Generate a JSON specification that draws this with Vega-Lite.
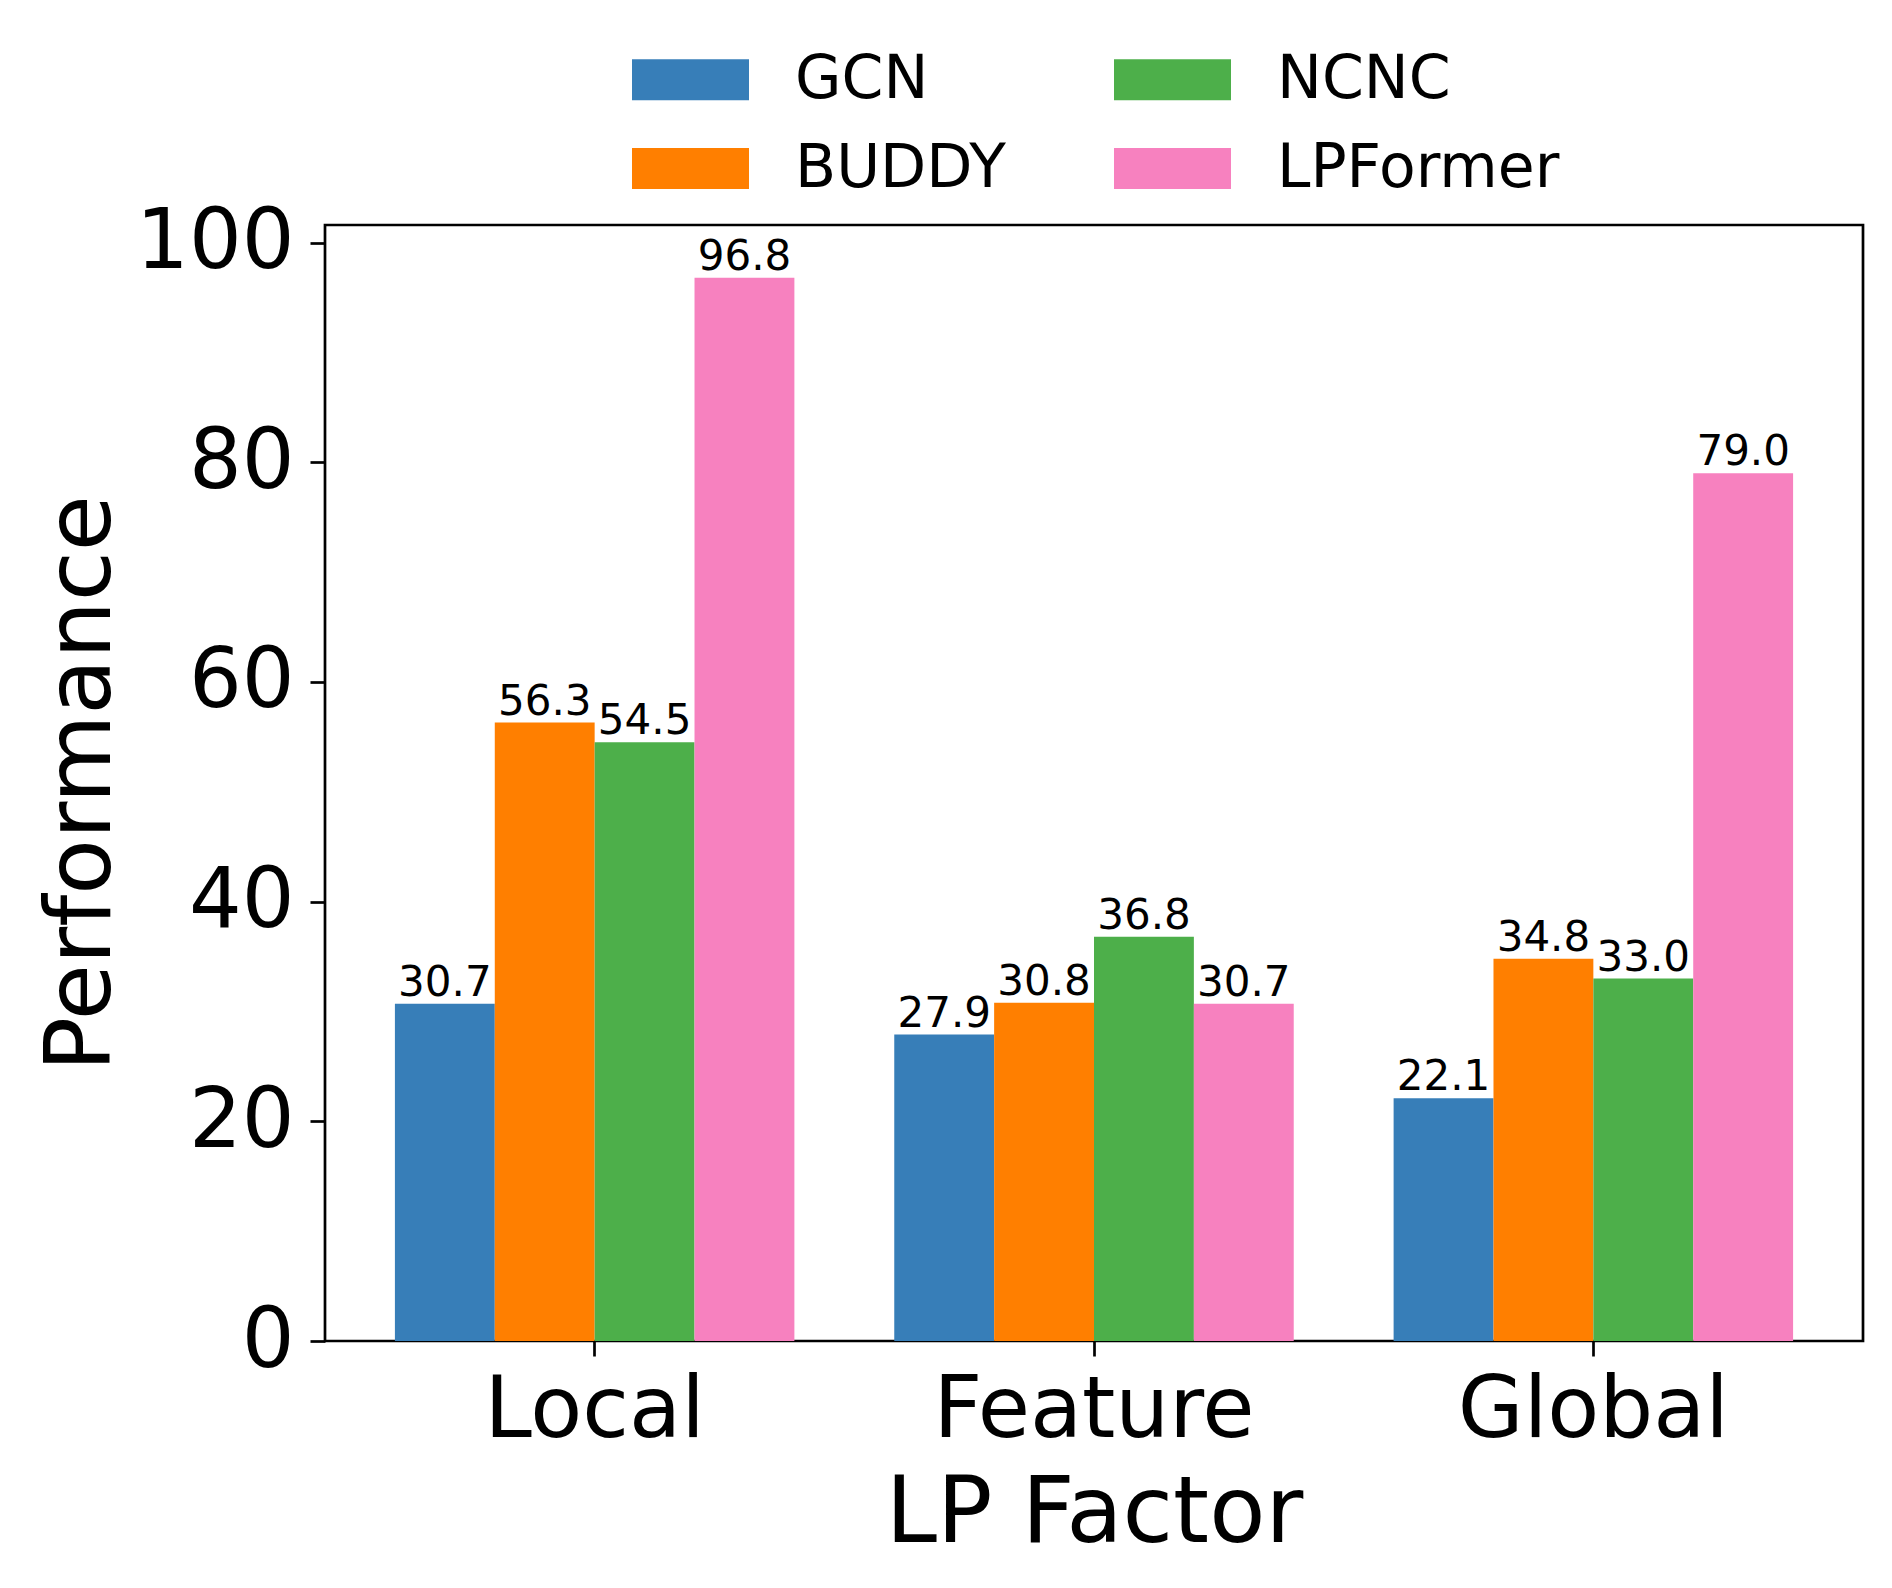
{
  "$schema": "https://vega.github.io/schema/vega-lite/v6.json",
  "width": 1538,
  "height": 1116,
  "autosize": {"type": "none"},
  "padding": {"left": 325, "top": 225, "right": 29, "bottom": 247},
  "background": "white",
  "config": {
    "font": "DejaVu Sans",
    "view": {"stroke": "black", "strokeWidth": 2.7}
  },
  "data": {
    "values": [
      {"factor": "Local", "model": "GCN", "value": 30.7},
      {"factor": "Local", "model": "BUDDY", "value": 56.3},
      {"factor": "Local", "model": "NCNC", "value": 54.5},
      {"factor": "Local", "model": "LPFormer", "value": 96.8},
      {"factor": "Feature", "model": "GCN", "value": 27.9},
      {"factor": "Feature", "model": "BUDDY", "value": 30.8},
      {"factor": "Feature", "model": "NCNC", "value": 36.8},
      {"factor": "Feature", "model": "LPFormer", "value": 30.7},
      {"factor": "Global", "model": "GCN", "value": 22.1},
      {"factor": "Global", "model": "BUDDY", "value": 34.8},
      {"factor": "Global", "model": "NCNC", "value": 33.0},
      {"factor": "Global", "model": "LPFormer", "value": 79.0}
    ]
  },
  "encoding": {
    "x": {
      "field": "factor",
      "type": "nominal",
      "sort": ["Local", "Feature", "Global"],
      "title": "LP Factor",
      "scale": {"paddingInner": 0.2, "paddingOuter": 0.14},
      "axis": {
        "domain": false,
        "grid": false,
        "labelAngle": 0,
        "tickSize": 15,
        "tickWidth": 2.7,
        "tickColor": "black",
        "labelFontSize": 85,
        "labelColor": "black",
        "labelLimit": 1000,
        "labelPadding": 80,
        "labelBaseline": "alphabetic",
        "titleFontSize": 92,
        "titleFontWeight": "normal",
        "titleColor": "black",
        "titleBaseline": "alphabetic",
        "titleY": 200
      }
    },
    "xOffset": {
      "field": "model",
      "type": "nominal",
      "sort": ["GCN", "BUDDY", "NCNC", "LPFormer"],
      "scale": {"paddingInner": 0, "paddingOuter": 0}
    },
    "y": {
      "field": "value",
      "type": "quantitative",
      "title": "Performance",
      "scale": {"domain": [0, 101.6], "nice": false, "zero": true},
      "axis": {
        "domain": false,
        "grid": false,
        "values": [0, 20, 40, 60, 80, 100],
        "tickSize": 15,
        "tickWidth": 2.7,
        "tickColor": "black",
        "labelFontSize": 83,
        "labelColor": "black",
        "labelLimit": 1000,
        "labelPadding": 16,
        "titleFontSize": 91,
        "titleFontWeight": "normal",
        "titleColor": "black",
        "titleBaseline": "alphabetic",
        "titleAlign": "center",
        "titleAngle": -90,
        "titleX": -216,
        "titleY": 558
      }
    }
  },
  "layer": [
    {
      "mark": {"type": "bar"},
      "encoding": {
        "color": {
          "field": "model",
          "type": "nominal",
          "scale": {
            "domain": ["GCN", "BUDDY", "NCNC", "LPFormer"],
            "range": ["#377eb8", "#ff7f00", "#4daf4a", "#f781bf"]
          },
          "legend": {
            "title": null,
            "orient": "none",
            "legendX": 307,
            "legendY": -204,
            "columns": 2,
            "columnPadding": 108,
            "rowPadding": -8,
            "symbolType": "M-1,-0.35H1V0.35H-1Z",
            "symbolSize": 13689,
            "symbolStrokeWidth": 0,
            "symbolOpacity": 1,
            "labelFontSize": 60,
            "labelColor": "black",
            "labelLimit": 1000,
            "labelOffset": 46
          }
        }
      }
    },
    {
      "mark": {"type": "text", "baseline": "alphabetic", "dy": -8, "fontSize": 42, "color": "black"},
      "encoding": {
        "text": {"field": "value", "type": "quantitative", "format": ".1f"}
      }
    }
  ]
}
